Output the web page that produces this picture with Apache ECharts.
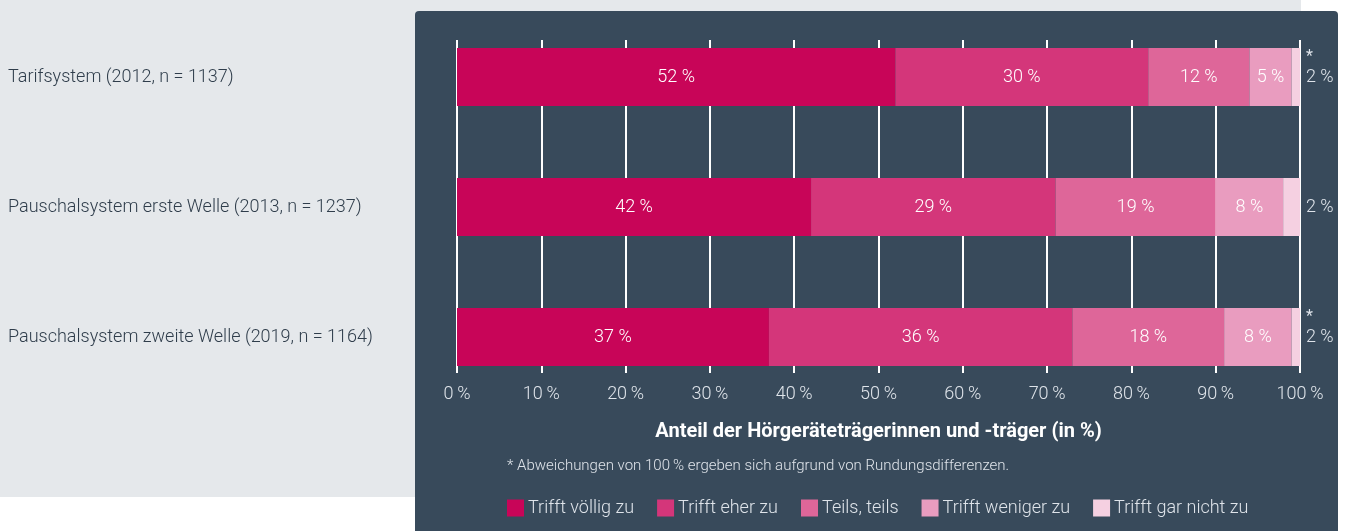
<!DOCTYPE html>
<html>
<head>
<meta charset="utf-8">
<script src="https://cdn.jsdelivr.net/npm/echarts@6/dist/echarts.min.js"></script>
<style>
  html, body { margin: 0; padding: 0; background: #fff; }
  #wrap { position: relative; width: 1348px; height: 531px; overflow: hidden; }
  .bg-light { position: absolute; left: 0; top: 0; width: 1301px; height: 497px; background: #e5e8eb; }
  .bg-panel { position: absolute; left: 415px; top: 11px; width: 923px; height: 520px; background: #384a5b; border-radius: 4px 4px 0 0; }
  #chart { position: absolute; left: 0; top: 0; width: 1348px; height: 531px; }
</style>
</head>
<body>
<div id="wrap">
  <div class="bg-light"></div>
  <div class="bg-panel"></div>
  <div id="chart"></div>
</div>
<script>
// Gruppen (von oben nach unten)
const categories = [
  "Tarifsystem (2012, n = 1137)",
  "Pauschalsystem erste Welle (2013, n = 1237)",
  "Pauschalsystem zweite Welle (2019, n = 1164)"
];
const seriesNames = ["Trifft völlig zu", "Trifft eher zu", "Teils, teils", "Trifft weniger zu", "Trifft gar nicht zu"];
// Anteile in %, je Antwortkategorie
const voellig = [52, 42, 37];
const eher = [30, 29, 36];
const teils = [12, 19, 18];
const weniger = [5, 8, 8];
const garNicht = [2, 2, 2];
const xTicks = [0, 10, 20, 30, 40, 50, 60, 70, 80, 90, 100];

const colors = ["#c80558", "#d4367a", "#de6699", "#e99cbf", "#f5d0e1"];
const FONT = "Roboto, sans-serif";
const allValues = [voellig, eher, teils, weniger, garNicht];

// Zeilen, deren Summe nicht 100 ergibt, bekommen ein Sternchen
const rowSum = categories.map((c, i) => allValues.reduce((s, arr) => s + arr[i], 0));

const chart = echarts.init(document.getElementById("chart"), null, { renderer: "canvas" });

const series = allValues.map((vals, k) => ({
  name: seriesNames[k],
  type: "bar",
  stack: "total",
  xAxisIndex: 0,
  yAxisIndex: 0,
  barWidth: 58,
  clip: true,
  itemStyle: { color: colors[k] },
  label: {
    show: k < 4,
    position: "inside",
    color: "#fff",
    fontFamily: FONT,
    fontSize: 18,
    fontWeight: 300,
    formatter: p => p.value + " %"
  },
  emphasis: { disabled: true },
  data: vals
}));

chart.setOption({
  backgroundColor: "transparent",
  animation: false,
  textStyle: { fontFamily: FONT },
  grid: [
    { left: 457, right: 48, top: 12, height: 390 },
    { left: 457, right: 48, top: 40, height: 333 }
  ],
  xAxis: [
    { gridIndex: 0, type: "value", min: 0, max: 100, show: false },
    {
      gridIndex: 1,
      type: "value",
      min: 0,
      max: 100,
      interval: 10,
      axisLine: { show: false },
      axisTick: { show: false },
      splitLine: { show: true, lineStyle: { color: "#ffffff", width: 2 } },
      axisLabel: {
        color: "#dfe4ea",
        fontFamily: FONT,
        fontSize: 18,
        fontWeight: 300,
        margin: 12,
        formatter: v => (xTicks.includes(v) ? v + "\u2009%" : "")
      },
      name: "Anteil der Hörgeräteträgerinnen und -träger (in %)",
      nameLocation: "middle",
      nameGap: 49,
      nameTextStyle: { color: "#ffffff", fontFamily: FONT, fontSize: 20, fontWeight: "bold" }
    }
  ],
  yAxis: [
    {
      gridIndex: 0,
      type: "category",
      inverse: true,
      data: categories,
      axisLine: { show: false },
      axisTick: { show: false },
      splitLine: { show: false },
      axisLabel: {
        align: "left",
        margin: 449,
        color: "#2f3d4b",
        fontFamily: FONT,
        fontSize: 18,
        fontWeight: 300
      }
    },
    {
      gridIndex: 0,
      type: "category",
      inverse: true,
      position: "right",
      data: categories,
      axisLine: { show: false },
      axisTick: { show: false },
      splitLine: { show: false },
      axisLabel: {
        margin: 6,
        align: "left",
        formatter: (v, i) => "{s|" + (rowSum[i] !== 100 ? "*" : " ") + "}\n{v|" + garNicht[i] + " %}\n{s| }",
        rich: {
          s: { color: "#dfe4ea", fontFamily: FONT, fontSize: 16, lineHeight: 21 },
          v: { color: "#dfe4ea", fontFamily: FONT, fontSize: 18, fontWeight: 300, lineHeight: 20 }
        }
      }
    },
    { gridIndex: 1, type: "category", data: categories, show: false }
  ],
  legend: {
    left: 507,
    top: 499,
    padding: 0,
    itemWidth: 17,
    itemHeight: 17,
    itemGap: 23,
    icon: "rect",
    selectedMode: false,
    textStyle: { color: "#dfe4ea", fontFamily: FONT, fontSize: 18, fontWeight: 300, padding: [0, 0, 0, -1] },
    data: seriesNames
  },
  graphic: [
    {
      type: "text",
      left: 507,
      top: 459,
      style: {
        text: "* Abweichungen von 100\u2009% ergeben sich aufgrund von Rundungsdifferenzen.",
        fill: "#dfe4ea",
        font: "300 15px " + FONT
      }
    }
  ],
  series
});
</script>
</body>
</html>
